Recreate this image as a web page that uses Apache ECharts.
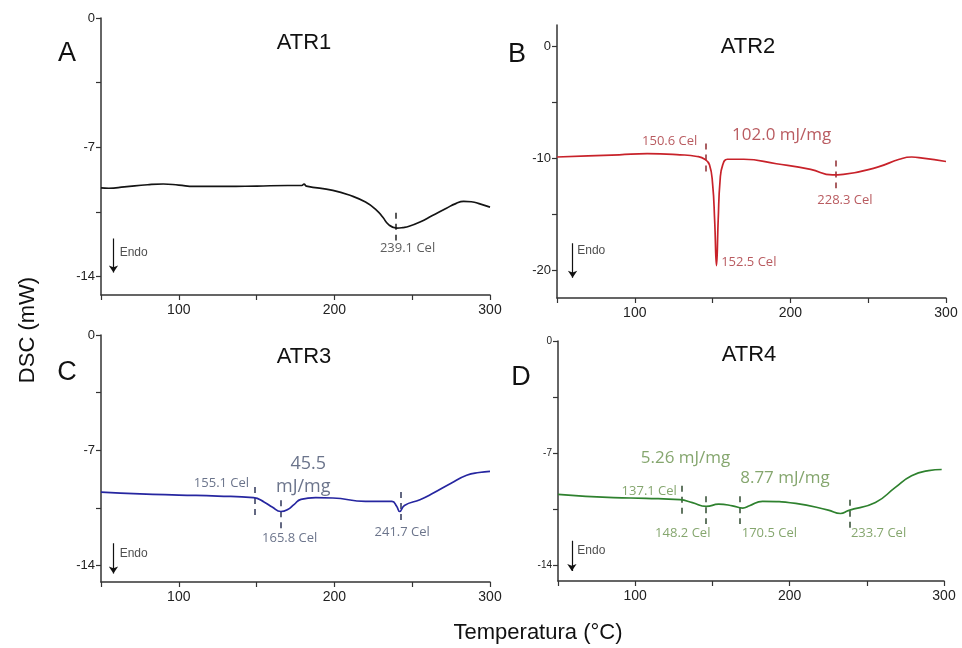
<!DOCTYPE html>
<html>
<head>
<meta charset="utf-8">
<script src="https://cdn.jsdelivr.net/npm/echarts@6/dist/echarts.min.js"></script>
<style>
  html, body { margin: 0; padding: 0; background: #fff; }
  #chart { width: 962px; height: 648px; }
</style>
</head>
<body>
<div id="chart"></div>
<script>
// temperature (°C), DSC (mW)
const atr1Curve = [
  [50, -9.2], [55, -9.22], [65, -9.15], [80, -9.03], [90, -8.99], [100, -9.05], [110, -9.12],
  [130, -9.12], [150, -9.1], [170, -9.07], [179, -9.07], [180.5, -9.0], [182, -9.1],
  [199, -9.33], [210, -9.6], [220, -9.97], [227, -10.4], [231, -10.78], [235, -11.2],
  [240, -11.38], [244, -11.35], [248, -11.28], [255, -11.05], [263, -10.7], [272, -10.3],
  [278, -10.05], [283, -9.93], [288, -9.95], [294, -10.08], [300, -10.24]
];
const atr2Curve = [
  [50, -9.9], [70, -9.8], [90, -9.7], [108, -9.6], [129, -9.7], [140, -9.85], [145, -10.1],
  [148, -10.6], [150, -12.3], [151.3, -15.5], [152.5, -19.6], [153.6, -15.5], [154.8, -12],
  [156.5, -10.6], [159.5, -10.1], [170, -10.1], [191, -10.5], [213, -11.0], [227, -11.5],
  [234, -11.45], [256, -10.8], [270, -10.1], [278, -9.9], [285, -10.0], [300, -10.3]
];
const atr3Curve = [
  [50, -9.54], [75, -9.65], [100, -9.72], [125, -9.78], [148, -9.88], [155, -10.15],
  [160, -10.45], [165.6, -10.72], [170, -10.6], [174, -10.3], [178.5, -9.98], [188, -9.88],
  [199, -9.9], [220, -10.1], [237, -10.1], [240, -10.4], [242, -10.72], [245, -10.35],
  [255, -10.0], [263, -9.63], [275, -9.0], [285, -8.52], [293, -8.35], [300, -8.28]
];
const atr4Curve = [
  [50, -9.58], [86, -9.79], [107, -9.83], [129, -9.92], [137, -10.1], [146, -10.34],
  [154, -10.2], [163, -10.3], [169.6, -10.44], [174, -10.3], [182.5, -10.02], [204, -10.15],
  [225, -10.57], [233, -10.78], [238, -10.6], [255.6, -10.09], [268.5, -9.15], [279, -8.42],
  [290, -8.1], [298.5, -8.03]
];

// dashed onset / peak markers: [temperature, top, bottom]
const atr1Marks = [[239.5, -10.55, -12.05]];
const atr2Marks = [[145.4, -8.7, -11.3], [228.9, -10.2, -12.7]];
const atr3Marks = [[149, -9.23, -10.96], [165.8, -10.04, -11.76], [242.4, -9.54, -11.26]];
const atr4Marks = [[130, -9.04, -10.82], [145.7, -9.71, -11.44], [167.8, -9.71, -11.44], [239, -9.92, -11.76]];

// annotations: [text, temperature, DSC, anchor, size]
const atr1Notes = [['239.1 Cel', 247, -12.48, 'center', 13]];
const atr2Notes = [
  ['150.6 Cel', 140.2, -8.5, 'right', 13], ['102.0 mJ/mg', 162.5, -7.97, 'left', 17],
  ['152.5 Cel', 155.5, -19.34, 'left', 13], ['228.3 Cel', 217.3, -13.8, 'left', 13]
];
const atr3Notes = [
  ['155.1 Cel', 145.2, -9.03, 'right', 13], ['45.5', 183.2, -7.85, 'center', 18],
  ['mJ/mg', 180, -9.23, 'center', 18], ['165.8 Cel', 153.5, -12.37, 'left', 13],
  ['241.7 Cel', 225.8, -12.0, 'left', 13]
];
const atr4Notes = [
  ['5.26 mJ/mg', 103.6, -7.33, 'left', 17], ['8.77 mJ/mg', 168, -8.56, 'left', 17],
  ['137.1 Cel', 127, -9.4, 'right', 13], ['148.2 Cel', 112.9, -12.0, 'left', 13],
  ['170.5 Cel', 169, -12.0, 'left', 13], ['233.7 Cel', 239.7, -12.0, 'left', 13]
];

// Endo arrows: [temperature, start, end], text position
const endoArrows = [[58, -11.94, -13.78], [60, -17.6, -20.7], [58, -12.64, -14.49], [59, -12.49, -14.37]];
const endoText = [[62, -12.7], [63, -18.3], [62, -13.27], [62.5, -13.12]];

const xTicks = [50, 100, 150, 200, 250, 300];
const yRanges = [[-15, 0], [-22.5, 1.9], [-15, 0], [-15, 0]];
const yTickValues = [
  [0, -3.5, -7, -10.5, -14], [0, -5, -10, -15, -20], [0, -3.5, -7, -10.5, -14], [0, -3.5, -7, -10.5, -14]
];
const yLabelValues = [[0, -7, -14], [0, -10, -20], [0, -7, -14], [0, -7, -14]];

const panels = [
  { curve: atr1Curve, marks: atr1Marks, notes: atr1Notes, line: '#141414', text: '#333333', mark: '#222222' },
  { curve: atr2Curve, marks: atr2Marks, notes: atr2Notes, line: '#c8222a', text: '#a83238', mark: '#8e2a2e' },
  { curve: atr3Curve, marks: atr3Marks, notes: atr3Notes, line: '#2626a0', text: '#46516e', mark: '#2f3658' },
  { curve: atr4Curve, marks: atr4Marks, notes: atr4Notes, line: '#2e812e', text: '#67904a', mark: '#2f4a2f' }
];

const grids = [
  { left: 101, top: 18, width: 389, height: 277 },
  { left: 557, top: 25, width: 389, height: 273 },
  { left: 101, top: 335, width: 389, height: 247 },
  { left: 558, top: 341, width: 386, height: 240 }
];

const axisColor = '#333';
const tickFont = 'Liberation Sans, Arial, sans-serif';
const noteFont = 'Open Sans, Noto Sans, sans-serif';

const chart = echarts.init(document.getElementById('chart'));

const xAxes = grids.map((g, i) => ({
  type: 'value',
  gridIndex: i,
  min: 50,
  max: 300,
  interval: 50,
  axisLine: { onZero: false, lineStyle: { color: axisColor, width: 1.5 } },
  axisTick: { length: 5, lineStyle: { color: axisColor, width: 1.2 }, customValues: xTicks },
  axisLabel: {
    color: '#222', fontSize: 14, fontFamily: tickFont, margin: 8,
    formatter: (v) => (v % 100 === 0 ? String(v) : '')
  },
  splitLine: { show: false }
}));

const yAxes = grids.map((g, i) => ({
  type: 'value',
  gridIndex: i,
  min: yRanges[i][0],
  max: yRanges[i][1],
  axisLine: { show: true, onZero: false, lineStyle: { color: axisColor, width: 1.5 } },
  axisTick: { show: true, length: 5, lineStyle: { color: axisColor, width: 1.2 }, customValues: yTickValues[i] },
  axisLabel: {
    color: '#222', fontSize: i === 3 ? 10 : 13, fontFamily: tickFont, margin: 6,
    customValues: yLabelValues[i]
  },
  splitLine: { show: false }
}));

const hidden = { color: 'rgba(0,0,0,0)' };

const series = [];
panels.forEach((p, i) => {
  series.push({
    type: 'line',
    xAxisIndex: i,
    yAxisIndex: i,
    data: p.curve,
    smooth: 0.5,
    showSymbol: false,
    lineStyle: { color: p.line, width: 1.7 },
    silent: true
  });
  series.push({
    type: 'lines',
    coordinateSystem: 'cartesian2d',
    xAxisIndex: i,
    yAxisIndex: i,
    data: p.marks.map((m) => ({ coords: [[m[0], m[1]], [m[0], m[2]]] })),
    lineStyle: { color: p.mark, width: 1.5, type: [6, 5], opacity: 1 },
    silent: true
  });
  series.push({
    type: 'scatter',
    xAxisIndex: i,
    yAxisIndex: i,
    symbolSize: 1,
    itemStyle: hidden,
    data: p.notes.map((n) => ({
      value: [n[1], n[2]],
      label: {
        show: true,
        position: 'inside',
        formatter: n[0],
        align: n[3],
        verticalAlign: 'middle',
        fontSize: n[4],
        color: p.text,
        fontFamily: noteFont
      }
    })),
    silent: true
  });
  series.push({
    type: 'lines',
    coordinateSystem: 'cartesian2d',
    xAxisIndex: i,
    yAxisIndex: i,
    symbol: ['none', 'arrow'],
    symbolSize: 7,
    data: [{ coords: [[endoArrows[i][0], endoArrows[i][1]], [endoArrows[i][0], endoArrows[i][2]]] }],
    lineStyle: { color: '#111', width: 1.2, opacity: 1 },
    silent: true
  });
  series.push({
    type: 'scatter',
    xAxisIndex: i,
    yAxisIndex: i,
    symbolSize: 1,
    itemStyle: hidden,
    data: [{
      value: endoText[i],
      label: {
        show: true, position: 'inside', formatter: 'Endo', align: 'left', verticalAlign: 'middle',
        fontSize: 12, color: '#222', fontFamily: tickFont
      }
    }],
    silent: true
  });
});

function text(str, x, y, size, extra) {
  return Object.assign({
    type: 'text',
    x: x,
    y: y,
    style: {
      text: str,
      fontSize: size,
      fontFamily: tickFont,
      fill: '#111',
      textAlign: 'center',
      textVerticalAlign: 'middle'
    }
  }, extra || {});
}

chart.setOption({
  backgroundColor: '#fff',
  animation: false,
  grid: grids,
  xAxis: xAxes,
  yAxis: yAxes,
  series: series,
  graphic: [
    text('A', 67, 54, 27),
    text('B', 517, 55, 27),
    text('C', 67, 373, 27),
    text('D', 521, 378, 27),
    text('ATR1', 304, 43, 22),
    text('ATR2', 748, 47, 22),
    text('ATR3', 304, 357, 22),
    text('ATR4', 749, 355, 22),
    text('DSC (mW)', 28, 330, 22, { rotation: Math.PI / 2 }),
    text('Temperatura (°C)', 538, 633, 22)
  ]
});
</script>
</body>
</html>
